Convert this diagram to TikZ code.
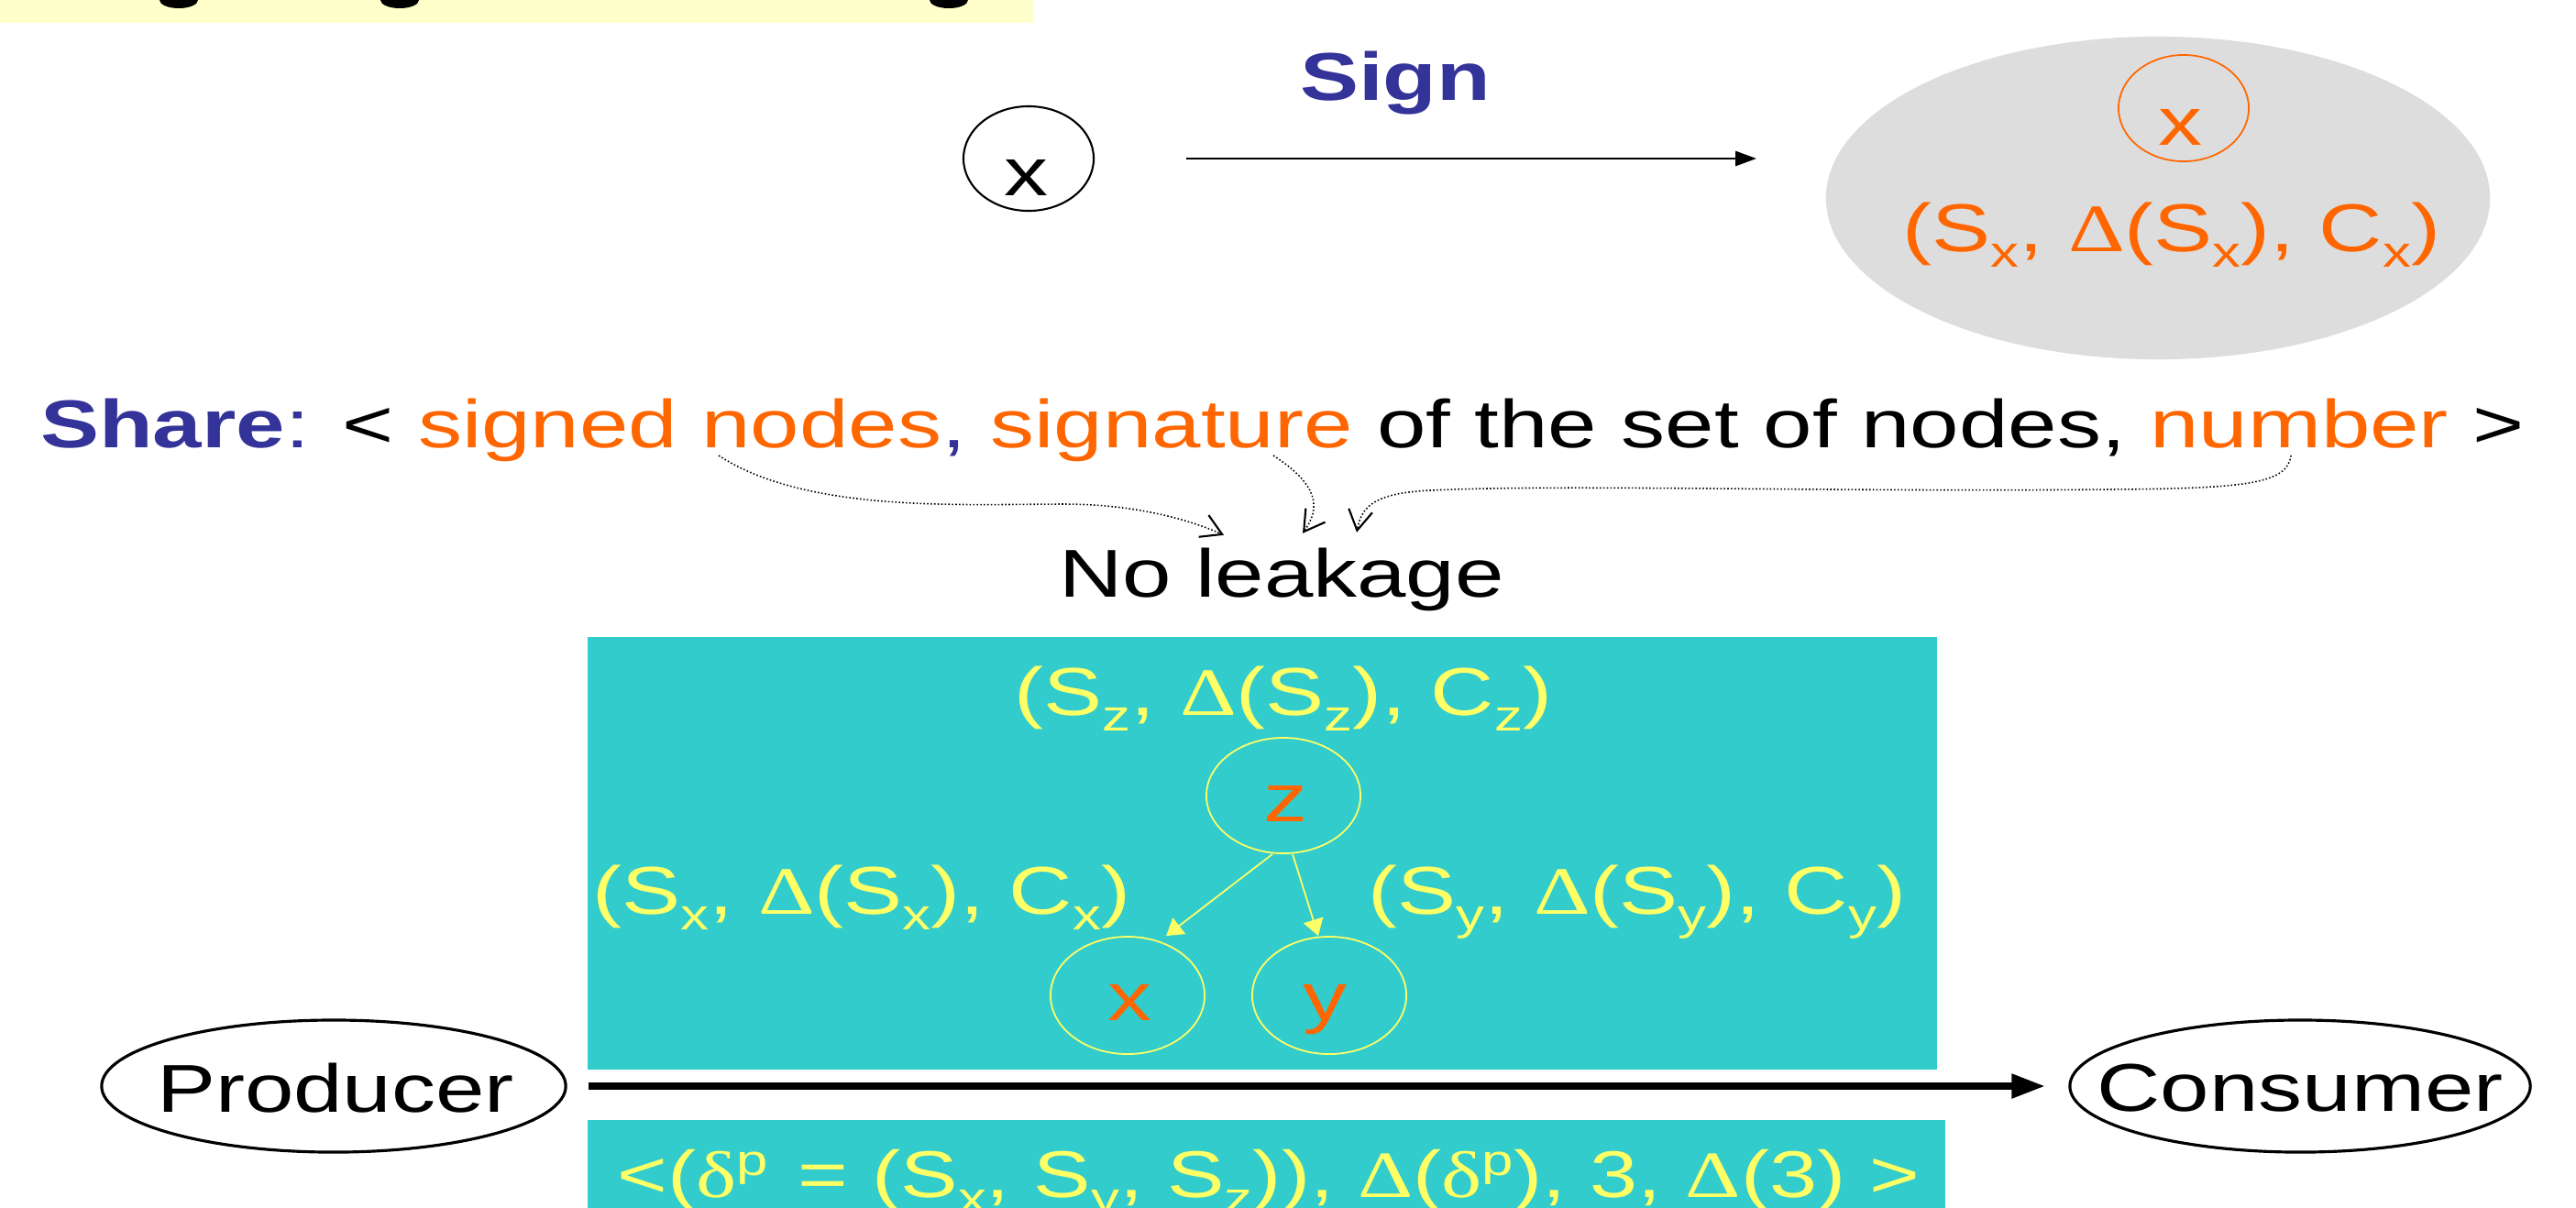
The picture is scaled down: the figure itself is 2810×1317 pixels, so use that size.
\documentclass[tikz,border=0pt]{standalone}
\usepackage{fontspec}
\setmainfont{Liberation Sans}[FakeStretch=1.3]
\newfontfamily\serifsym{Liberation Serif}[FakeStretch=1.3]
\usetikzlibrary{arrows.meta,shapes.geometric}
\definecolor{orng}{HTML}{FF6600}
\definecolor{ylw}{HTML}{FFFF66}
\definecolor{blu}{HTML}{333399}
\definecolor{cyn}{HTML}{33CCCC}
\definecolor{gry}{HTML}{DDDDDD}
\definecolor{bannerc}{HTML}{FFFFCC}
\newcommand\fsz{\fontsize{21}{25}\selectfont}
\newcommand\fszb{\fontsize{20.5}{25}\selectfont}
\newcommand\sbs[1]{\raisebox{-0.24em}{\fontsize{13.5}{14}\selectfont #1}}
\newcommand\sps[1]{\raisebox{0.32em}{\fontsize{13.5}{14}\selectfont #1}}
\newcommand\myDelta{{\serifsym Δ}}
\newcommand\mydelta{{\serifsym δ}}
\begin{document}
\begin{tikzpicture}[x=0.01cm,y=-0.01cm,
  txt/.style={inner sep=0pt,font=\fsz},
  oval/.style 2 args={ellipse,inner sep=0pt,minimum width=#1,minimum height=#2},
  dotarrow/.style={line width=0.45pt,dash pattern=on 0.45pt off 0.65pt,
    -{Straight Barb[length=0.22cm,width=0.26cm,line width=0.6pt]}},
  yarrow/.style={ylw,line width=0.5pt,-{Triangle[length=0.18cm,width=0.22cm]}}]
\useasboundingbox (0,0) rectangle (2810,1317);
\clip (0,0) rectangle (2810,1317);
\fill[white] (0,0) rectangle (2810,1317);
% cut-off banner
\fill[bannerc] (0,0) rectangle (1127,25);
\fill (174,0) arc[start angle=180,end angle=360,x radius=0.21cm,y radius=0.09cm];
\fill (415,0) arc[start angle=180,end angle=360,x radius=0.21cm,y radius=0.09cm];
\fill (1014,0) arc[start angle=180,end angle=360,x radius=0.21cm,y radius=0.09cm];
% Sign
\node[oval={1.42cm}{1.14cm},draw,line width=0.6pt] (nx) at (1122,173) {};
\node[txt,anchor=base] (nxt) at (1119,213) {x};
\node[txt,anchor=base,text=blu,font=\fsz\bfseries] (sign) at (1522,109) {Sign};
\node[oval={7.24cm}{3.52cm},fill=gry] (big) at (2354,216) {};
\node[oval={1.42cm}{1.16cm},draw=orng,line width=0.5pt] (bx) at (2382,118) {};
\node[txt,anchor=base,text=orng] (bxt) at (2378,158) {x};
\node[txt,anchor=base,text=orng] (btup) at (2369,274) {(S\sbs{x}, \myDelta(S\sbs{x}), C\sbs{x})};
\draw[line width=0.8pt,-{Triangle[length=0.23cm,width=0.16cm]}] ([xshift=1cm]nx.east) -- ([xshift=-0.75cm]nx.east -| big.west);
% Share line
\node[txt,anchor=base] (share) at (1399,488) {\textcolor{blu}{\textbf{Share}:} < \textcolor{orng}{signed nodes}\textcolor{blu}{,} \textcolor{orng}{signature} of the set of nodes, \textcolor{orng}{number} >};
\node[txt,anchor=base] (noleak) at (1398,651) {No leakage};
\coordinate (s1) at (784,497);
\coordinate (s2) at (1389,497);
\coordinate (s3) at (2499,497);
\draw[dotarrow] (s1) .. controls (880,560) and (1050,550) .. (1161,550) .. controls (1240,550) and (1300,568) .. ([shift={(-63,-13)}]noleak.north);
\draw[dotarrow] (s2) .. controls (1440,530) and (1440,555) .. ([shift={(23,-15)}]noleak.north);
\draw[dotarrow] (s3) .. controls (2495,528) and (2450,533) .. (2300,534) .. controls (2000,537) and (1700,528) .. (1560,535) .. controls (1500,538) and (1485,552) .. ([shift={(82,-16)}]noleak.north);
% tree box
\node[fill=cyn,inner sep=0pt,minimum width=14.72cm,minimum height=4.72cm] (box1) at (1377,931) {};
\node[txt,anchor=base,text=ylw] (ztup) at (1400,780) {(S\sbs{z}, \myDelta(S\sbs{z}), C\sbs{z})};
\node[oval={1.68cm}{1.26cm},draw=ylw,line width=0.5pt] (zn) at (1400,868) {};
\node[txt,anchor=base,text=orng] (znt) at (1402,896) {z};
\node[txt,anchor=base,text=ylw] (xtup) at (940,997) {(S\sbs{x}, \myDelta(S\sbs{x}), C\sbs{x})};
\node[txt,anchor=base,text=ylw] (ytup) at (1786,997) {(S\sbs{y}, \myDelta(S\sbs{y}), C\sbs{y})};
\node[oval={1.68cm}{1.28cm},draw=ylw,line width=0.5pt] (xn) at (1230,1086) {};
\node[oval={1.68cm}{1.28cm},draw=ylw,line width=0.5pt] (yn) at (1450,1086) {};
\node[txt,anchor=base,text=orng] (xnt) at (1232,1113) {x};
\node[txt,anchor=base,text=orng] (ynt) at (1445,1113) {y};
\draw[yarrow] ([xshift=-0.12cm]zn.south) -- ([xshift=0.42cm]xn.north);
\draw[yarrow] ([xshift=0.10cm]zn.south) -- ([xshift=-0.12cm]yn.north);
% producer / consumer
\node[oval={5.06cm}{1.44cm},draw,line width=0.9pt] (prod) at (364,1185) {};
\node[txt,anchor=base] (prodt) at (366,1213) {Producer};
\node[oval={5.02cm}{1.44cm},draw,line width=0.9pt] (cons) at (2509,1185) {};
\node[txt,anchor=base] (const) at (2509,1212) {Consumer};
\draw[line width=2.3pt,-{Triangle[length=0.37cm,width=0.25cm]}] ([xshift=0.23cm]prod.east) -- ([xshift=-0.25cm]cons.west);
% bottom box
\node[fill=cyn,inner sep=0pt,minimum width=14.81cm,minimum height=1.2cm] (box2) at (1381.5,1282) {};
\node[txt,anchor=base west,text=ylw,font=\fszb] (btext) at (673,1306) {<(\mydelta\sps{p}\hspace{0.45em}= (S\sbs{x}, S\sbs{y}, S\sbs{z})), \myDelta(\mydelta\sps{p}), 3, \myDelta(3) >};
\end{tikzpicture}
\end{document}
